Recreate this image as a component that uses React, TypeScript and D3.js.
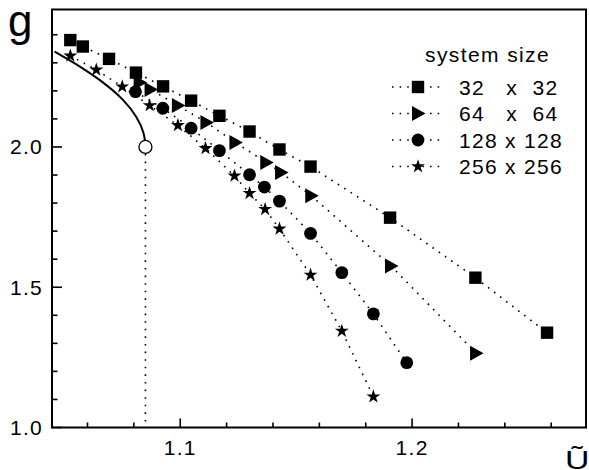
import React from "react";
import * as d3 from "d3";

// ---- data ----
const sizeLabels = ["32   x  32", "64   x  64", "128 x 128", "256 x 256"];
const seriesKeys = ["square", "triangle", "circle", "star"];

const u32 = [1.0526, 1.058, 1.0693, 1.0809, 1.0926, 1.1047, 1.1169, 1.1299, 1.1428, 1.1562, 1.1905, 1.2273, 1.2582];
const g32 = [2.381, 2.358, 2.314, 2.265, 2.216, 2.165, 2.111, 2.055, 1.991, 1.93, 1.748, 1.534, 1.338];

const u64 = [1.0825, 1.0872, 1.099, 1.1113, 1.1238, 1.1371, 1.1435, 1.1565, 1.1909, 1.2276];
const g64 = [2.23, 2.205, 2.148, 2.087, 2.016, 1.945, 1.909, 1.826, 1.576, 1.265];

const u128 = [1.0807, 1.0925, 1.1047, 1.1169, 1.1299, 1.1363, 1.1428, 1.1562, 1.1697, 1.1833, 1.1977];
const g128 = [2.197, 2.138, 2.067, 1.987, 1.901, 1.857, 1.807, 1.692, 1.552, 1.405, 1.231];

const u256 = [1.0526, 1.0638, 1.075, 1.0868, 1.099, 1.1109, 1.1234, 1.1299, 1.1366, 1.1428, 1.1562, 1.1697, 1.1833];
const g256 = [2.325, 2.275, 2.215, 2.148, 2.077, 1.995, 1.897, 1.835, 1.778, 1.708, 1.544, 1.344, 1.11];

const fitU = [1.0458, 1.0509, 1.0652, 1.0753, 1.081, 1.0842, 1.085];
const fitG = [2.34, 2.316, 2.239, 2.168, 2.108, 2.049, 2.0];
const criticalU = 1.085;
const criticalG = 2.0;

const xMajor = [1.1, 1.2];
const xMinor = [1.06, 1.08, 1.12, 1.14, 1.16, 1.18, 1.22, 1.24, 1.26];
const yMajor = [1.0, 1.5, 2.0];
const yMinor = [1.1, 1.2, 1.3, 1.4, 1.6, 1.7, 1.8, 1.9, 2.1, 2.2, 2.3, 2.4];

const allU = [u32, u64, u128, u256];
const allG = [g32, g64, g128, g256];

const W = 589;
const H = 470;
const x = d3.scaleLinear().domain([1.0447, 1.275]).range([52, 586]);
const y = d3.scaleLinear().domain([1.0, 2.49]).range([427.5, 9.5]);

const FONT = "'Liberation Sans', Arial, Helvetica, sans-serif";
const DOT = { stroke: "#000", strokeWidth: 1.6, strokeDasharray: "1.6 6", fill: "none" };

function Marker({ kind, cx, cy }: { kind: string; cx: number; cy: number }) {
  if (kind === "square") return <rect x={cx - 6.2} y={cy - 6.2} width={12.4} height={12.4} fill="#000" />;
  if (kind === "circle") return <circle cx={cx} cy={cy} r={6.4} fill="#000" />;
  if (kind === "triangle")
    return <path d={`M${cx - 6},${cy - 7.5}L${cx + 7.5},${cy}L${cx - 6},${cy + 7.5}Z`} fill="#000" />;
  const star = d3.symbol(d3.symbolStar, 60)();
  return <path d={star || ""} transform={`translate(${cx},${cy})`} fill="#000" />;
}

export default function App() {
  const line = d3
    .line<[number, number]>()
    .x((d) => x(d[0]))
    .y((d) => y(d[1]));
  const fitLine = d3
    .line<[number, number]>()
    .x((d) => x(d[0]))
    .y((d) => y(d[1]))
    .curve(d3.curveMonotoneY);
  const fitPts: [number, number][] = fitU.map((u, i) => [u, fitG[i]]);

  const legendRows = [87, 113.5, 140, 166.5];

  return (
    <svg width={W} height={H} style={{ position: "absolute", left: 0, top: 0, background: "#fff" }} fontFamily={FONT}>
      {/* dotted connecting lines */}
      {allU.map((us, k) => (
        <path key={"l" + k} d={line(us.map((u, i) => [u, allG[k][i]] as [number, number])) || ""} {...DOT} />
      ))}
      {/* critical vertical dotted line */}
      <line x1={x(criticalU)} x2={x(criticalU)} y1={y(criticalG) + 7} y2={y(1.0)} {...DOT} />
      {/* fit curve */}
      <path d={fitLine(fitPts) || ""} fill="none" stroke="#000" strokeWidth={2} />
      <circle cx={x(criticalU)} cy={y(criticalG)} r={6.5} fill="#fff" stroke="#000" strokeWidth={1.3} />
      {/* markers */}
      {allU.map((us, k) =>
        us.map((u, i) => <Marker key={`m${k}-${i}`} kind={seriesKeys[k]} cx={x(u)} cy={y(allG[k][i])} />)
      )}
      {/* frame */}
      <rect x={52} y={9.5} width={534} height={418} fill="none" stroke="#000" strokeWidth={2} />
      {/* x ticks */}
      {xMajor.map((t) => (
        <g key={"xM" + t}>
          <line x1={x(t)} x2={x(t)} y1={427.5} y2={418.5} stroke="#000" strokeWidth={1.6} />
          <text x={x(t)} y={455} textAnchor="middle" fontSize={21} letterSpacing={1.3}>
            {t.toFixed(1)}
          </text>
        </g>
      ))}
      {xMinor.map((t) => (
        <line key={"xm" + t} x1={x(t)} x2={x(t)} y1={427.5} y2={422.5} stroke="#000" strokeWidth={1.6} />
      ))}
      {/* y ticks */}
      {yMajor.map((t) => (
        <g key={"yM" + t}>
          <line x1={52} x2={62} y1={y(t)} y2={y(t)} stroke="#000" strokeWidth={1.6} />
          <text x={43} y={y(t)} textAnchor="end" dominantBaseline="central" fontSize={21} letterSpacing={1.3}>
            {t.toFixed(1)}
          </text>
        </g>
      ))}
      {yMinor.map((t) => (
        <line key={"ym" + t} x1={52} x2={57.5} y1={y(t)} y2={y(t)} stroke="#000" strokeWidth={1.6} />
      ))}
      {/* axis labels */}
      <text x={8} y={36} fontSize={44}>
        g
      </text>
      <g transform="translate(565,469) scale(1.3,1)">
        <text x={0} y={0} fontSize={26}>
          Ũ
        </text>
      </g>
      {/* legend */}
      <text x={425} y={61.5} fontSize={21} letterSpacing={1.4}>
        system size
      </text>
      {sizeLabels.map((lab, k) => (
        <g key={"lg" + k}>
          <line x1={392} x2={442} y1={legendRows[k]} y2={legendRows[k]} {...DOT} />
          <Marker kind={seriesKeys[k]} cx={418} cy={legendRows[k]} />
          <text x={459} y={legendRows[k]} dominantBaseline="central" fontSize={21} letterSpacing={1.3} style={{ whiteSpace: "pre" }}>
            {lab}
          </text>
        </g>
      ))}
    </svg>
  );
}
